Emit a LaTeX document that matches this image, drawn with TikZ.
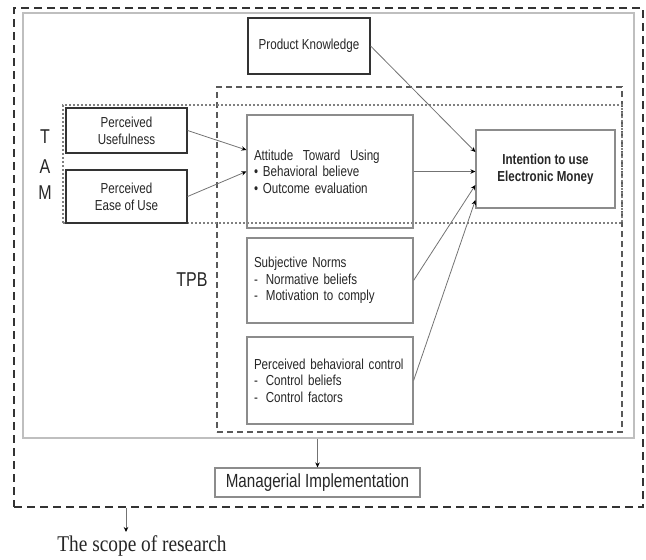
\documentclass[tikz,border=0pt]{standalone}
\usepackage{fontspec}
\setmainfont{Liberation Sans}[FakeStretch=0.8]
\newfontfamily\scopefont{Liberation Serif}[FakeStretch=0.86]
\usetikzlibrary{arrows.meta}
\begin{document}
\begin{tikzpicture}[x=1pt,y=-1pt,
  outerbox/.style={draw=black!80,line width=1.8pt,dash pattern=on 8pt off 5pt,inner sep=0pt},
  innerbox/.style={draw=black!25,line width=1.5pt,inner sep=0pt},
  tpbbox/.style={draw=black!65,line width=1.1pt,dash pattern=on 6pt off 4pt,inner sep=0pt},
  tambox/.style={draw=black!50,line width=1.6pt,dash pattern=on 2pt off 2pt,inner sep=0pt},
  darkbox/.style={draw=black!80,line width=1.2pt,inner sep=2pt,align=center,text=black!85,font=\fontsize{14.5}{17}\selectfont},
  lightbox/.style={draw=black!45,line width=1.2pt,inner sep=2pt,text=black!85,font=\fontsize{14.5}{16.5}\selectfont},
  listbox/.style={lightbox,align=left,text width=152pt,inner sep=0pt,inner xsep=7pt},
  bigletter/.style={font=\fontsize{20}{20}\selectfont,text=black!85},
  conn/.style={draw=black!55,line width=0.8pt,-{Stealth[length=5pt,width=4.5pt,black]}}
]
\useasboundingbox (0,0) rectangle (646,560);
% containers
\node[outerbox,minimum width=629pt,minimum height=499pt] (outer) at (328.5,257.5) {};
\node[innerbox,minimum width=611pt,minimum height=425pt] (inner) at (328.5,225.5) {};
\node[tpbbox,minimum width=405pt,minimum height=345pt] (tpb) at (419.5,259.5) {};
\node[tambox,minimum width=559pt,minimum height=118pt] (tam) at (342.5,164) {};
% boxes
\node[darkbox,minimum width=122pt,minimum height=56pt] (pk) at (309,46) {Product Knowledge};
\node[darkbox,minimum width=121pt,minimum height=45pt] (pu) at (126.5,130.5) {Perceived\\Usefulness};
\node[darkbox,minimum width=121pt,minimum height=53pt] (peou) at (126.5,196.5) {Perceived\\Ease of Use};
\node[listbox,minimum height=113pt] (att) at (330,171.5) {\mbox{Attitude\ \ Toward\ \ Using}\\\textbullet\ Behavioral believe\\\textbullet\ Outcome evaluation};
\node[listbox,minimum height=85pt] (sn) at (330,280.5) {Subjective Norms\\-\hspace{8pt}Normative beliefs\\-\hspace{8pt}Motivation to comply};
\node[listbox,minimum height=87pt] (pbc) at (330,380.5) {\mbox{Perceived behavioral control}\\-\hspace{8pt}Control beliefs\\-\hspace{8pt}Control factors};
\node[lightbox,align=center,minimum width=139pt,minimum height=78pt,font=\bfseries\fontsize{14.5}{17}\selectfont] (int) at (545.5,169) {Intention to use\\Electronic Money};
\node[lightbox,minimum width=205pt,minimum height=29pt,font=\fontsize{19}{19}\selectfont] (mi) at (317.5,482.5) {Managerial Implementation};
% labels
\node[bigletter] (lt) at (45,137) {T};
\node[bigletter] (la) at (45,167) {A};
\node[bigletter] (lm) at (45,193) {M};
\node[bigletter,anchor=east] (ltpb) at (211,280) {TPB};
\coordinate (scopetop) at (126,532);
\node[font=\scopefont\fontsize{22.5}{22.5}\selectfont,text=black!85] (scope) at (142,546) {The scope of research};
% connectors
\draw[conn] (pu.east) -- ([yshift=21.5pt]att.west);
\draw[conn] (peou.east) -- (att.west);
\draw[conn] (pk.east) -- ([yshift=17pt]int.west);
\draw[conn] (att.east) -- (att.east -| int.west);
\draw[conn] (sn.east) -- ([yshift=-16pt]int.west);
\draw[conn] (pbc.east) -- ([yshift=-31pt]int.west);
\draw[conn] (mi.north |- inner.south) -- (mi.north);
\draw[conn] (outer.south -| scopetop) -- (scopetop);
\end{tikzpicture}
\end{document}
